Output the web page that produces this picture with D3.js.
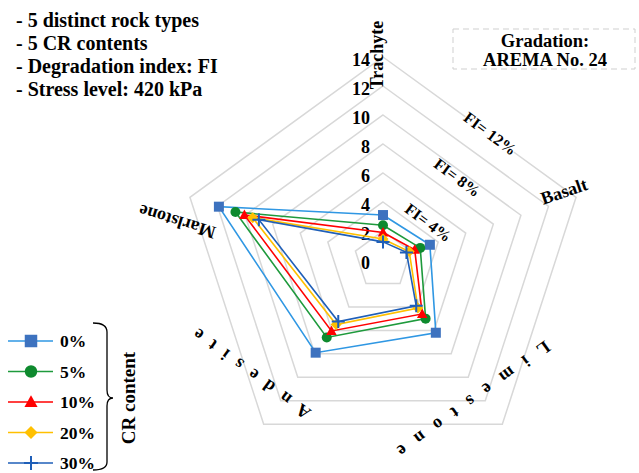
<!DOCTYPE html>
<html><head><meta charset="utf-8">
<script src="https://cdn.jsdelivr.net/npm/d3@7"></script>
<style>
html,body{margin:0;padding:0;background:#fff;}
</style></head>
<body>
<svg id="chart" width="639" height="473" font-family="Liberation Serif, Times New Roman, DejaVu Serif, serif" font-weight="bold"></svg>
<script>
const categories = ["Trachyte", "Basalt", "Limestone", "Andesite", "Marlstone"];
const seriesNames = ["0%", "5%", "10%", "20%", "30%"];
const cr0 = [3.1, 3.4, 6.2, 7.9, 11.9];
const cr5 = [2.4, 2.7, 5.0, 6.6, 10.7];
const cr10 = [1.9, 2.3, 4.6, 6.05, 10.05];
const cr20 = [1.45, 1.9, 4.1, 5.5, 9.45];
const cr30 = [1.25, 1.7, 3.9, 5.25, 9.0];
const tickLabels = [0, 2, 4, 6, 8, 10, 12, 14];
const fiLabels = ["FI= 4%", "FI= 8%", "FI= 12%"];
const notes = ["- 5 distinct rock types", "- 5 CR contents", "- Degradation index: FI", "- Stress level: 420 kPa"];
const gradation = ["Gradation:", "AREMA No. 24"];

const seriesValues = [cr0, cr5, cr10, cr20, cr30];
const lineColors = ["#2F97E3", "#1E9A3C", "#FF0000", "#FFC000", "#1F5FB8"];
const markerColors = ["#3D72BF", "#0E8A2E", "#FF0000", "#FFC000", "#1F5FB8"];
const markerKinds = ["square", "circle", "triangle", "diamond", "plus"];

const svg = d3.select("#chart");
const cx = 383, cy = 260;
const r = d3.scaleLinear().domain([0, 14]).range([0, 203]);
const ang = d3.scaleLinear().domain([0, categories.length]).range([0, 2 * Math.PI]);

const g = svg.append("g").attr("transform", `translate(${cx},${cy})`);

// grid rings
const ring = d3.lineRadial().angle((d, i) => ang(i)).radius(d => r(d)).curve(d3.curveLinearClosed);
g.selectAll("path.grid").data(tickLabels.filter(t => t > 0)).enter().append("path")
  .attr("class", "grid")
  .attr("d", t => ring(categories.map(() => t)))
  .attr("fill", "none").attr("stroke", "#D8D8D8").attr("stroke-width", 1.5);

// tick labels
g.selectAll("text.tick").data(tickLabels).enter().append("text")
  .attr("class", "tick")
  .attr("x", -13).attr("y", t => -r(t) + 8.5)
  .attr("text-anchor", "end").attr("font-size", 18)
  .text(t => t);

function markerPath(kind, s) {
  const h = s / 2;
  if (kind === "square") return `M${-h},${-h}H${h}V${h}H${-h}Z`;
  if (kind === "circle") return `M${h},0A${h},${h} 0 1,1 ${-h},0A${h},${h} 0 1,1 ${h},0Z`;
  if (kind === "triangle") return `M0,${-h * 1.1}L${h * 1.05},${h * 0.8}L${-h * 1.05},${h * 0.8}Z`;
  if (kind === "diamond") return `M0,${-h}L${h},0L0,${h}L${-h},0Z`;
  return `M${-h},0H${h}M0,${-h}V${h}`;
}
function pt(v, i) {
  const a = ang(i);
  return [r(v) * Math.sin(a), -r(v) * Math.cos(a)];
}

// series
const poly = d3.lineRadial().angle((d, i) => ang(i)).radius(d => r(d)).curve(d3.curveLinearClosed);
seriesValues.forEach((vals, si) => {
  const sg = g.append("g");
  sg.append("path").attr("d", poly(vals)).attr("fill", "none")
    .attr("stroke", lineColors[si]).attr("stroke-width", 1.6);
  const kind = markerKinds[si];
  sg.selectAll("path.m").data(vals).enter().append("path")
    .attr("class", "m")
    .attr("transform", (v, i) => `translate(${pt(v, i)})`)
    .attr("d", markerPath(kind, kind === "plus" ? 13 : (kind === "diamond" ? 11 : 10)))
    .attr("fill", kind === "plus" ? "none" : markerColors[si])
    .attr("stroke", kind === "plus" ? markerColors[si] : "none")
    .attr("stroke-width", 2);
});

// category labels
const catLabel = [
  {x: 383, y: 55, rot: -90, ls: 0},
  {x: 566, y: 197, rot: -19, ls: 0},
  {x: 465, y: 398, rot: 144, ls: 13},
  {x: 251, y: 366, rot: 216, ls: 10.5},
  {x: 179, y: 216, rot: 197, ls: 0}
];
svg.selectAll("text.cat").data(categories).enter().append("text")
  .attr("class", "cat")
  .attr("transform", (d, i) => `translate(${catLabel[i].x},${catLabel[i].y}) rotate(${catLabel[i].rot})`)
  .attr("text-anchor", "middle").attr("font-size", 18)
  .attr("letter-spacing", (d, i) => catLabel[i].ls)
  .text(d => d);

// FI labels
const fiPos = [{x: 425, y: 227}, {x: 454, y: 182}, {x: 487, y: 138}];
fiLabels.forEach((t, i) => {
  const fg = svg.append("g").attr("transform", `translate(${fiPos[i].x},${fiPos[i].y}) rotate(36.5)`);
  if (i === 2) fg.append("rect").attr("x", -30).attr("y", -14).attr("width", 60).attr("height", 18).attr("fill", "#fff");
  fg.append("text").attr("text-anchor", "middle").attr("font-size", 16).text(t);
});

// notes
svg.selectAll("text.note").data(notes).enter().append("text")
  .attr("class", "note").attr("x", 16).attr("y", (d, i) => 27 + i * 23)
  .attr("font-size", 20).text(d => d);

// gradation box
svg.append("rect").attr("x", 453).attr("y", 29).attr("width", 182).attr("height", 40)
  .attr("fill", "#fff").attr("stroke", "#CFCFCF").attr("stroke-dasharray", "6,4");
svg.selectAll("text.grad").data(gradation).enter().append("text")
  .attr("class", "grad").attr("x", 545).attr("y", (d, i) => 47 + i * 19)
  .attr("text-anchor", "middle").attr("font-size", 18.5).text(d => d);

// legend
const lg = svg.append("g");
seriesNames.forEach((name, i) => {
  const y = 341 + i * 30.5;
  lg.append("line").attr("x1", 8).attr("x2", 53).attr("y1", y).attr("y2", y)
    .attr("stroke", lineColors[i]).attr("stroke-width", 1.6);
  const kind = markerKinds[i];
  lg.append("path").attr("transform", `translate(31,${y})`)
    .attr("d", markerPath(kind, kind === "plus" ? 14 : (kind === "diamond" ? 13 : 12.5)))
    .attr("fill", kind === "plus" ? "none" : markerColors[i])
    .attr("stroke", kind === "plus" ? markerColors[i] : "none").attr("stroke-width", 2);
  lg.append("text").attr("x", 60).attr("y", y + 6).attr("font-size", 17.5).text(name);
});
svg.append("path")
  .attr("d", "M93,323 Q107,323 107,332 L107,390 Q107,398 113,398 Q107,398 107,406 L107,462 Q107,470 93,470")
  .attr("fill", "none").attr("stroke", "#000").attr("stroke-width", 1.3);
svg.append("text").attr("transform", "translate(135,398) rotate(-90)")
  .attr("text-anchor", "middle").attr("font-size", 19).text("CR content");
</script>
</body></html>
